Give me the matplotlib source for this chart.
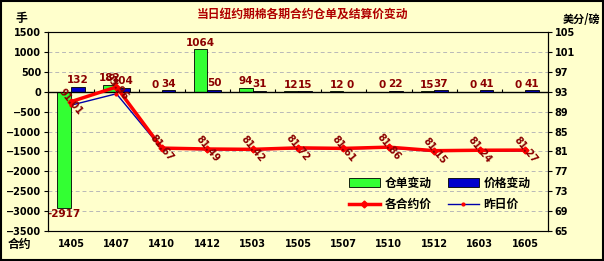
import numpy as np
import matplotlib
matplotlib.use("Agg")
import matplotlib.pyplot as plt
from matplotlib.lines import Line2D
from matplotlib.patches import Patch

plt.rcParams["font.family"] = ["DejaVu Sans", "Noto Sans CJK SC"]
plt.rcParams["font.weight"] = "bold"

# data
contracts = ["1405", "1407", "1410", "1412", "1503", "1505", "1507", "1510", "1512", "1603", "1605"]
warrant_chg = [-2917, 182, 0, 1064, 94, 12, 12, 0, 15, 0, 0]
price_chg = [132, 104, 34, 50, 31, 15, 0, 22, 37, 41, 41]
price_today = [91.01, 93.96, 81.67, 81.49, 81.42, 81.72, 81.61, 81.86, 81.15, 81.24, 81.27]
price_prev = [90.30, 92.60, 81.55, 81.35, 81.30, 81.55, 81.50, 81.70, 81.00, 81.05, 81.10]

bg = "#FFFFCC"
dark_red = "#8B0000"

fig = plt.figure(figsize=(6.04, 2.61), dpi=100, facecolor=bg)
fig.patches.append(plt.Rectangle((0.002, 0.004), 0.996, 0.992, transform=fig.transFigure,
                                 fill=False, edgecolor="black", linewidth=1.5))
ax = fig.add_axes([0.080, 0.115, 0.827, 0.762])
ax.set_facecolor(bg)
x = np.arange(len(contracts))
w = 0.3

ax.bar(x - w / 2, warrant_chg, w, color="#33FF33", edgecolor="black", linewidth=0.6, zorder=3)
ax.bar(x + w / 2, price_chg, w, color="#0000CC", edgecolor="black", linewidth=0.6, zorder=3)

for i in range(len(contracts)):
    v = warrant_chg[i]
    if v < 0:
        ax.text(x[i] - w / 2, v - 40, str(v), ha="center", va="top", fontsize=7.5, color=dark_red)
    else:
        ax.text(x[i] - w / 2, v + 40, str(v), ha="center", va="bottom", fontsize=7.5, color=dark_red)
    ax.text(x[i] + w / 2, price_chg[i] + 40, str(price_chg[i]), ha="center", va="bottom",
            fontsize=7.5, color=dark_red)

ax.set_xlim(-0.5, len(contracts) - 0.5)
ax.set_ylim(-3500, 1500)
ax.set_yticks(np.arange(-3500, 1501, 500))
ax.set_xticks(x)
ax.set_xticklabels(contracts)
ax.tick_params(axis="x", length=0, labelsize=7, pad=6)
ax.tick_params(axis="y", length=3, labelsize=7, pad=2)
for t in np.arange(-3000, 1500, 500):
    ax.axhline(t, color="#B8B8B8", linestyle=(0, (4, 3)), linewidth=0.7, zorder=1)
ax.axhline(0, color="black", linewidth=1.0, zorder=4)
ax.vlines(x[:-1] + 0.5, 0, 80, color="black", linewidth=0.8, zorder=4)
ax.spines["top"].set_color("#808080")
ax.spines["bottom"].set_color("#808080")

ax2 = ax.twinx()
ax2.set_ylim(65, 105)
ax2.set_yticks(np.arange(65, 106, 4))
ax2.tick_params(axis="y", length=3, labelsize=7, pad=2)
ax2.plot(x, price_prev, color="#0000AA", linewidth=1.0, marker="o", markersize=2,
         markerfacecolor="red", markeredgecolor="red", zorder=5)
ax2.plot(x, price_today, color="#FF0000", linewidth=2.5, marker="D", markersize=3.5,
         markerfacecolor="red", markeredgecolor="red", zorder=6)
for i in range(len(contracts)):
    ax2.text(x[i], price_today[i], "%.2f" % price_today[i], ha="center", va="center",
             rotation=-50, fontsize=7, color=dark_red, zorder=7)

fig.text(0.5, 0.945, "当日纽约期棉各期合约仓单及结算价变动", ha="center", va="center",
         fontsize=8.5, color="#B00000", family=["Noto Sans CJK SC"], weight="bold")
fig.text(0.035, 0.93, "手", ha="center", va="center", fontsize=8.5, family=["Noto Sans CJK SC"])
fig.text(0.962, 0.925, "美分/磅", ha="center", va="center", fontsize=8, family=["Noto Sans CJK SC"])
fig.text(0.033, 0.065, "合约", ha="center", va="center", fontsize=8.5, family=["Noto Sans CJK SC"])

handles = [Patch(facecolor="#33FF33", edgecolor="black", linewidth=0.6),
           Line2D([], [], color="#FF0000", linewidth=2.5, marker="D", markersize=3.5),
           Patch(facecolor="#0000CC", edgecolor="black", linewidth=0.6),
           Line2D([], [], color="#0000AA", linewidth=1.0, marker="o", markersize=2,
                  markerfacecolor="red", markeredgecolor="red")]
labels = ["仓单变动", "各合约价", "价格变动", "昨日价"]
fig.legend(handles, labels, loc="upper left", bbox_to_anchor=(0.570, 0.340), ncol=2,
           frameon=False, prop={"family": "Noto Sans CJK SC", "weight": "bold", "size": 8.5},
           handlelength=2.6, handleheight=0.8, columnspacing=1.4, labelspacing=0.7,
           handletextpad=0.4, borderaxespad=0)

fig.savefig("out.png", dpi=100, facecolor=bg)
